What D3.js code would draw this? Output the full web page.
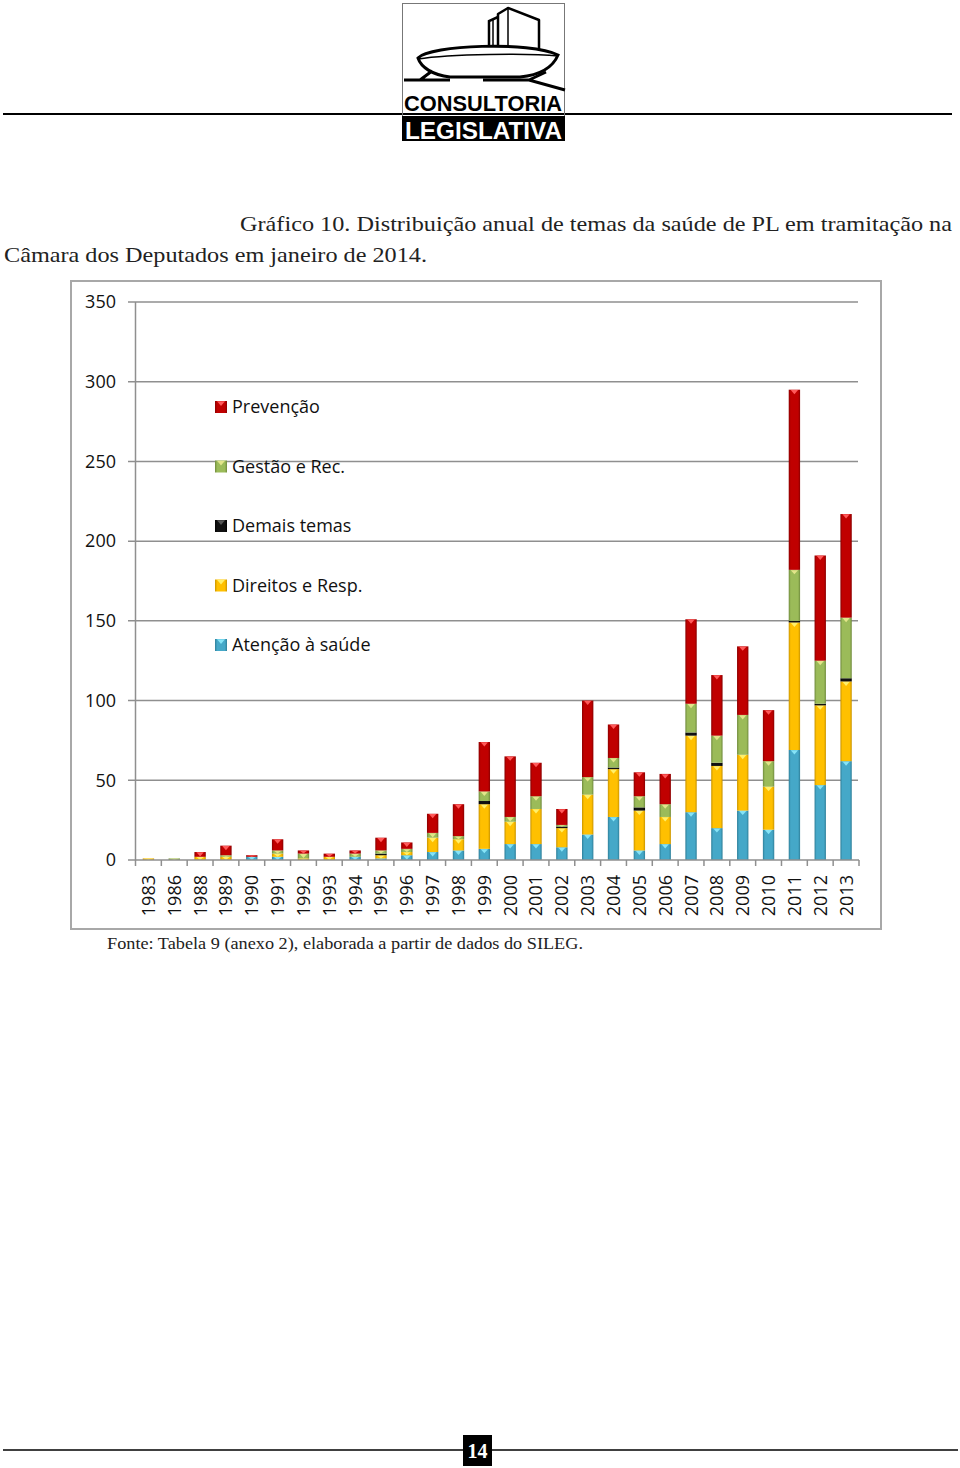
<!DOCTYPE html>
<html><head><meta charset="utf-8">
<script src="https://cdn.jsdelivr.net/npm/d3@7"></script>
<style>body{margin:0;background:#fff}</style>
</head><body><svg id="c" width="960" height="1468" xmlns="http://www.w3.org/2000/svg"></svg>
<script>
const years = ["1983","1986","1988","1989","1990","1991","1992","1993","1994","1995","1996","1997","1998","1999","2000","2001","2002","2003","2004","2005","2006","2007","2008","2009","2010","2011","2012","2013"];
const atencao   = [0,0,0,0,2,2,0,0,2,1,3,5,6,7,10,10,8,16,27,6,10,30,20,31,19,69,47,62];
const direitos  = [1,0,2,2,0,2,1,2,0,2,2,9,7,28,14,22,12,25,30,25,17,48,39,35,27,80,50,50];
const demais    = [0,0,0,0,0,0,0,0,0,1,0,0,0,2,0,0,1,0,1,2,0,2,2,0,0,1,1,2];
const gestao    = [0,1,0,1,0,2,3,0,2,2,2,3,2,6,3,8,1,11,6,7,8,18,17,25,16,32,27,38];
const prevencao = [0,0,3,6,1,7,2,2,2,8,4,12,20,31,38,21,10,48,21,15,19,53,38,43,32,113,66,65];
const seriesKeys = ["atencao","direitos","demais","gestao","prevencao"];
const seriesNames = ["Atenção à saúde","Direitos e Resp.","Demais temas","Gestão e Rec.","Prevenção"];
const yTicks = [0,50,100,150,200,250,300,350];
const titleLine1 = "Gráfico 10. Distribuição anual de temas da saúde de PL em tramitação na";
const titleLine2 = "Câmara dos Deputados em janeiro de 2014.";
const sourceText = "Fonte: Tabela 9 (anexo 2), elaborada a partir de dados do SILEG.";
const pageNumber = "14";

const colors = {atencao:"#45a8c8", direitos:"#ffc000", demais:"#111111", gestao:"#9bbb59", prevencao:"#c00000"};
const darks  = {atencao:"#2f7f99", direitos:"#c99400", demais:"#000000", gestao:"#6f8a3c", prevencao:"#8a0000"};
const tris   = {atencao:"#86e4f7", direitos:"#fff06a", demais:"#333333", gestao:"#e2e58a", prevencao:"#ff5a5a"};

const svg = d3.select("#c");
const defs = svg.append("defs");
seriesKeys.forEach(k => {
  const g = defs.append("linearGradient").attr("id","g_"+k).attr("x1","0").attr("x2","1").attr("y1","0").attr("y2","0");
  g.append("stop").attr("offset","0%").attr("stop-color",darks[k]);
  g.append("stop").attr("offset","18%").attr("stop-color",colors[k]);
  g.append("stop").attr("offset","82%").attr("stop-color",colors[k]);
  g.append("stop").attr("offset","100%").attr("stop-color",darks[k]);
});

// ---------- header ----------
svg.append("line").attr("x1",3).attr("x2",952).attr("y1",114).attr("y2",114).attr("stroke","#000").attr("stroke-width",2);
const logo = svg.append("g");
logo.append("rect").attr("x",402.5).attr("y",3.5).attr("width",162).attr("height",137).attr("fill","none").attr("stroke","#777").attr("stroke-width",1);
// towers
logo.append("path").attr("d","M498,48 L498,14 L508,8 L539,20 L539,50").attr("fill","#fff").attr("stroke","#000").attr("stroke-width",2.5).attr("stroke-linejoin","round");
logo.append("path").attr("d","M489,48 L489,21 L498,17").attr("fill","none").attr("stroke","#000").attr("stroke-width",2.5);
logo.append("path").attr("d","M493,47 L493,20").attr("fill","none").attr("stroke","#000").attr("stroke-width",1.5);
logo.append("path").attr("d","M508,9 L508,48").attr("fill","none").attr("stroke","#000").attr("stroke-width",1.5);
// saucer
logo.append("path").attr("d","M418,58 C430,45 530,41 558,55 C553,67 540,75 520,77 L450,77 C432,75 421,67 418,58 Z").attr("fill","#fff").attr("stroke","#000").attr("stroke-width",3);
logo.append("path").attr("d","M418,59 C450,54 530,53 558,56").attr("fill","none").attr("stroke","#000").attr("stroke-width",1.5);
// base lines
logo.append("path").attr("d","M404,80 L450,80 M420,80 L432,71 M483,80 L529,80 L565,90 M529,80 L546,72").attr("fill","none").attr("stroke","#000").attr("stroke-width",3);
logo.append("text").attr("x",404).attr("y",111).attr("font-family","Liberation Sans Narrow, Liberation Sans, sans-serif").attr("font-weight","bold").attr("font-size",22)
  .attr("textLength",158).attr("lengthAdjust","spacingAndGlyphs").attr("fill","#000").text("CONSULTORIA");
logo.append("rect").attr("x",402).attr("y",116).attr("width",163).attr("height",25).attr("fill","#000");
logo.append("text").attr("x",405).attr("y",139).attr("font-family","Liberation Sans Narrow, Liberation Sans, sans-serif").attr("font-weight","bold").attr("font-size",24)
  .attr("textLength",157).attr("lengthAdjust","spacingAndGlyphs").attr("fill","#fff").text("LEGISLATIVA");

// ---------- title ----------
svg.append("text").attr("x",240).attr("y",231).attr("font-family","Liberation Serif, serif").attr("font-size",22).attr("fill","#222")
  .attr("textLength",712).attr("lengthAdjust","spacingAndGlyphs").text(titleLine1);
svg.append("text").attr("x",4).attr("y",262).attr("font-family","Liberation Serif, serif").attr("font-size",22).attr("fill","#222")
  .attr("textLength",423).attr("lengthAdjust","spacingAndGlyphs").text(titleLine2);

// ---------- chart ----------
svg.append("rect").attr("x",71).attr("y",281).attr("width",810).attr("height",648).attr("fill","#fff").attr("stroke","#a8a8a8").attr("stroke-width",2);

const x = d3.scaleBand().domain(years).range([135.5, 859]).padding(0);
const y = d3.scaleLinear().domain([0,350]).range([860, 302]);
const font = "Open Sans, sans-serif";

// gridlines
svg.append("g").selectAll("line").data(yTicks.filter(d=>d>0)).join("line")
  .attr("x1",128).attr("x2",858).attr("y1",d=>y(d)).attr("y2",d=>y(d))
  .attr("stroke","#8f8f8f").attr("stroke-width",1.5);

// y axis labels
const yAxis = d3.axisLeft(y).tickValues(yTicks).tickSize(0).tickPadding(0).tickFormat(d3.format("d"));
const yg = svg.append("g").attr("transform","translate(116,0)").call(yAxis);
yg.select(".domain").remove();
yg.selectAll("text").attr("font-family",font).attr("font-size",18).attr("fill","#111");
svg.append("line").attr("x1",135.5).attr("x2",135.5).attr("y1",302).attr("y2",860).attr("stroke","#8f8f8f").attr("stroke-width",1.5);
svg.append("line").attr("x1",128).attr("x2",135.5).attr("y1",860).attr("y2",860).attr("stroke","#8f8f8f").attr("stroke-width",1.5);

// stacked bars
const table = years.map((yr,i)=>({year:yr, atencao:atencao[i], direitos:direitos[i], demais:demais[i], gestao:gestao[i], prevencao:prevencao[i]}));
const stack = d3.stack().keys(seriesKeys)(table);
const bw = x.step()*0.44;
const layers = svg.append("g").selectAll("g").data(stack).join("g");
layers.each(function(layer){
  const k = layer.key;
  const g = d3.select(this);
  const segs = layer.filter(d=>d[1]-d[0]>0);
  g.selectAll("rect").data(segs).join("rect")
    .attr("x",d=>x(d.data.year)+x.bandwidth()/2-bw/2)
    .attr("y",d=>y(d[1]))
    .attr("width",bw)
    .attr("height",d=>y(d[0])-y(d[1]))
    .attr("fill","url(#g_"+k+")");
  if (k!=="demais") {
    g.selectAll("path").data(segs).join("path")
      .attr("d",d=>{
        const cx = x(d.data.year)+x.bandwidth()/2;
        const top = y(d[1]);
        const h = Math.min(4.5, y(d[0])-y(d[1]));
        return `M${cx-bw*0.32},${top+0.3} L${cx+bw*0.32},${top+0.3} L${cx},${top+h} Z`;
      })
      .attr("fill",tris[k]);
  }
});

// x axis
svg.append("line").attr("x1",135.5).attr("x2",859).attr("y1",860).attr("y2",860).attr("stroke","#8f8f8f").attr("stroke-width",1.5);
svg.append("g").selectAll("line").data(years.concat(["end"])).join("line")
  .attr("x1",(d,i)=>x.range()[0]+i*x.step()).attr("x2",(d,i)=>x.range()[0]+i*x.step())
  .attr("y1",860).attr("y2",866).attr("stroke","#8f8f8f").attr("stroke-width",1.5);
svg.append("g").selectAll("text").data(years).join("text")
  .attr("transform",d=>`translate(${x(d)+x.bandwidth()/2},875) rotate(-90)`)
  .attr("text-anchor","end").attr("dy","0.36em")
  .attr("font-family",font).attr("font-size",18).attr("fill","#111").text(d=>d);

// legend (top to bottom: reverse of stack)
const legendOrder = seriesKeys.slice().reverse();
const legY = d3.scalePoint().domain(legendOrder).range([407, 645]);
const leg = svg.append("g").selectAll("g").data(legendOrder).join("g")
  .attr("transform",d=>`translate(215,${legY(d)})`);
leg.append("rect").attr("x",0).attr("y",-6).attr("width",12).attr("height",12).attr("fill",d=>"url(#g_"+d+")");
leg.filter(d=>d!=="demais").append("path").attr("d","M2,-5.7 L10,-5.7 L6,-1 Z").attr("fill",d=>tris[d]);
leg.filter(d=>d==="demais").append("path").attr("d","M2,-5.7 L10,-5.7 L6,-1 Z").attr("fill","#555");
leg.append("text").attr("x",17).attr("y",0).attr("dy","0.36em").attr("font-family",font).attr("font-size",18).attr("fill","#111")
  .text(d=>seriesNames[seriesKeys.indexOf(d)]);

// source
svg.append("text").attr("x",107).attr("y",949).attr("font-family","Liberation Serif, serif").attr("font-size",16.5).attr("fill","#222")
  .attr("textLength",476).attr("lengthAdjust","spacingAndGlyphs").text(sourceText);

// ---------- footer ----------
svg.append("line").attr("x1",3).attr("x2",463).attr("y1",1450).attr("y2",1450).attr("stroke","#000").attr("stroke-width",1.5);
svg.append("line").attr("x1",492).attr("x2",958).attr("y1",1450).attr("y2",1450).attr("stroke","#000").attr("stroke-width",1.5);
svg.append("rect").attr("x",463).attr("y",1435).attr("width",29).attr("height",31).attr("fill","#000");
svg.append("text").attr("x",477.5).attr("y",1458).attr("text-anchor","middle").attr("font-family","Liberation Serif, serif").attr("font-weight","bold").attr("font-size",20).attr("fill","#fff").text(pageNumber);
</script>
</body></html>
